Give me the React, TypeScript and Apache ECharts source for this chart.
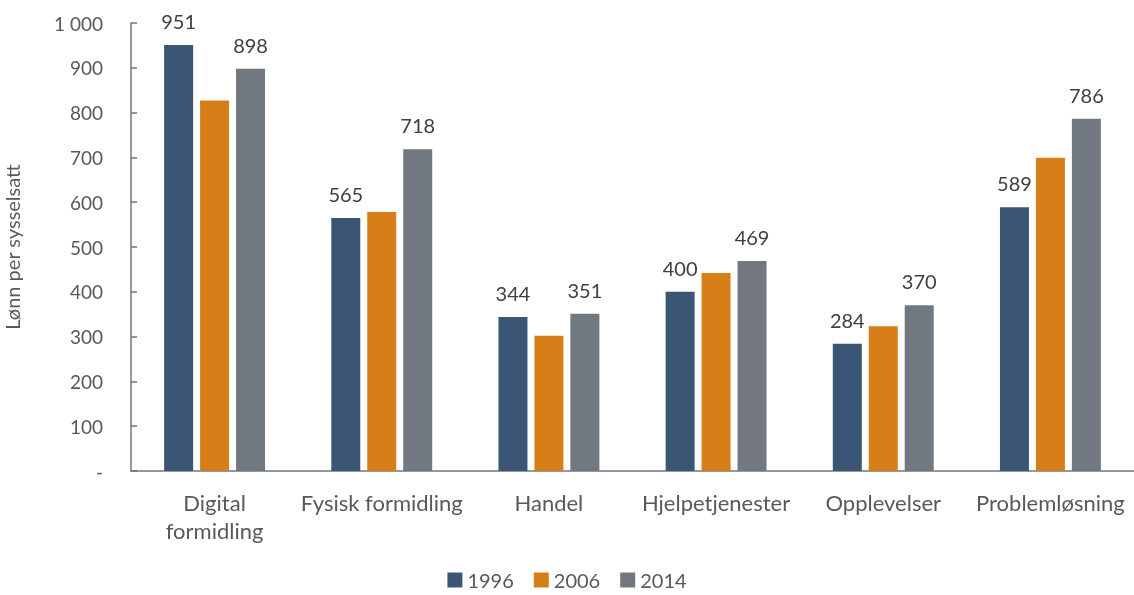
import React, { useEffect, useRef } from "react";
import * as echarts from "echarts";

const categories = ["Digital\nformidling", "Fysisk formidling", "Handel", "Hjelpetjenester", "Opplevelser", "Problemløsning"];
const seriesNames = ["1996", "2006", "2014"];
const values1996 = [951, 565, 344, 400, 284, 589];
const values2006 = [827, 578, 302, 442, 323, 699];
const values2014 = [898, 718, 351, 469, 370, 786];
const showLabels = [true, false, true];
const colors = ["#3A5674", "#D67E17", "#717880"];

const FONT = "Lato, 'Noto Sans', sans-serif";

export default function App() {
  const ref = useRef<HTMLDivElement>(null);
  useEffect(() => {
    if (!ref.current) return;
    const chart = echarts.init(ref.current, undefined, { renderer: "svg" });
    const data = [values1996, values2006, values2014];
    chart.setOption({
      animation: false,
      textStyle: { fontFamily: FONT },
      grid: { left: 131, right: 0, top: 23, bottom: 124, outerBoundsMode: "none", containLabel: false },
      legend: {
        left: "center",
        top: 570,
        itemWidth: 15,
        itemHeight: 15,
        itemGap: 20,
        icon: "rect",
        textStyle: { fontSize: 20, lineHeight: 16, color: "#595959", fontFamily: FONT },
        padding: 0,
        data: seriesNames,
      },
      xAxis: {
        type: "category",
        data: categories,
        axisLine: { lineStyle: { color: "#6E7781", width: 1.5 } },
        axisTick: { inside: true, length: 6, lineStyle: { color: "#6E7781", width: 1.5 } },
        axisLabel: { interval: 0, fontSize: 22, color: "#595959", margin: 17, lineHeight: 28, fontFamily: FONT },
      },
      yAxis: {
        type: "value",
        min: 0,
        max: 1000,
        interval: 100,
        name: "Lønn per sysselsatt",
        nameLocation: "middle",
        nameGap: 109,
        nameTextStyle: { fontSize: 20, color: "#595959", fontFamily: FONT },
        axisLine: { show: true, lineStyle: { color: "#6E7781", width: 1.5 } },
        axisTick: { show: true, inside: true, length: 6, lineStyle: { color: "#6E7781", width: 1.5 } },
        splitLine: { show: false },
        axisLabel: {
          fontSize: 19,
          color: "#595959",
          margin: 28,
          fontFamily: FONT,
          formatter: (v: number) => (v === 0 ? "-" : v >= 1000 ? v.toString().replace(/\B(?=(\d{3})+(?!\d))/g, " ") : String(v)),
        },
      },
      series: seriesNames.map((name, i) => ({
        name,
        type: "bar",
        data: data[i],
        barWidth: 29,
        barGap: "24%",
        itemStyle: { color: colors[i] },
        label: {
          show: showLabels[i],
          position: "top",
          distance: 14,
          fontSize: 20,
          color: "#404040",
          fontFamily: FONT,
        },
      })),
    });
    return () => chart.dispose();
  }, []);
  return <div ref={ref} style={{ position: "fixed", left: 0, top: 0, width: 1134, height: 595 }} />;
}
